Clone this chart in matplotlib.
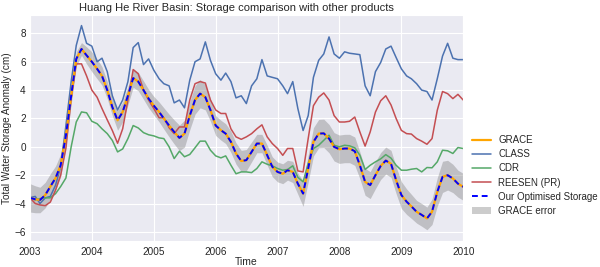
import matplotlib
matplotlib.use("Agg")
import matplotlib.pyplot as plt
import matplotlib.dates as mdates
import matplotlib.patches as mpatches
import matplotlib.lines as mlines
import pandas as pd
import seaborn as sns

dates = pd.date_range("2003-01-01", "2010-01-01", freq="MS")

grace = [-3.6, -3.7, -3.75, -3.4, -2.8, -2.2, -1.3, 0.8, 3.6, 6.2, 6.9, 6.45,
         6.0, 5.5, 5.0, 4.0, 2.8, 1.87, 2.46, 3.6, 4.85, 4.6, 4.0, 3.4,
         2.9, 2.46, 2.0, 1.5, 1.05, 0.63, 0.93, 2.2, 3.3, 3.75, 3.5, 2.6,
         1.5, 1.17, 0.93, 0.35, -0.47, -1.0, -0.94, -0.36, 0.23, 0.23, -0.59, -1.4,
         -1.77, -1.9, -1.65, -1.77, -2.6, -3.3, -1.53, 0.35, 0.93, 0.95, 0.58, 0.0,
         -0.17, -0.12, -0.12, -0.31, -1.3, -2.47, -2.7, -2.0, -1.35, -0.97, -1.2, -2.35,
         -3.4, -3.87, -4.2, -4.58, -4.8, -5.05, -4.58, -3.18, -2.12, -2.0, -2.23, -2.6,
         -2.82]
optimised = list(grace)
grace_err = [1.0, 0.95, 0.9, 0.9, 0.9, 0.85, 0.8, 0.7, 0.6, 0.5, 0.45, 0.6,
             0.7, 0.7, 0.65, 0.6, 0.6, 0.7, 0.7, 0.65, 0.65, 0.65, 0.65, 0.65,
             0.65, 0.7, 0.75, 0.8, 0.85, 0.9, 0.95, 1.0, 1.0, 1.0, 0.9, 0.8,
             0.7, 0.7, 0.7, 0.75, 0.75, 0.75, 0.75, 0.7, 0.65, 0.65, 0.7, 0.7,
             0.7, 0.7, 0.7, 0.75, 0.75, 0.9, 0.95, 1.0, 1.0, 1.0, 1.0, 1.0,
             1.0, 1.0, 1.0, 1.0, 0.95, 0.95, 0.95, 0.95, 0.95, 0.95, 0.95, 0.95,
             0.95, 0.9, 0.85, 0.8, 0.8, 0.8, 0.9, 1.0, 1.1, 1.05, 1.0, 0.95,
             0.95]
class_tws = [-3.58, -3.5, -4.0, -3.6, -3.5, -2.7, -1.4, 1.5, 4.6, 7.15, 8.55, 7.3,
             7.1, 6.0, 6.25, 5.3, 3.6, 2.6, 3.3, 4.6, 7.0, 7.35, 5.8, 6.2,
             5.4, 4.8, 4.45, 4.3, 3.1, 3.3, 2.75, 4.7, 6.0, 6.2, 7.4, 6.1,
             5.15, 4.7, 5.2, 4.6, 3.45, 3.6, 3.05, 4.3, 4.8, 6.15, 5.0, 4.9,
             4.8, 4.3, 3.75, 4.6, 2.7, 1.15, 2.2, 4.9, 6.1, 6.55, 7.75, 6.55,
             6.25, 6.7, 6.6, 6.55, 6.5, 4.3, 3.6, 5.3, 5.95, 6.9, 7.1, 6.3,
             5.5, 5.0, 4.8, 4.45, 4.0, 3.9, 3.3, 4.8, 6.4, 7.3, 6.25, 6.15,
             6.15]
cdr = [-3.58, -3.75, -3.65, -3.6, -3.6, -3.3, -2.8, -2.2, 0.0, 1.75, 2.46, 2.4,
       1.8, 1.63, 1.27, 0.93, 0.45, -0.36, -0.15, 0.58, 1.5, 1.33, 1.0, 0.85,
       0.77, 0.63, 0.58, 0.0, -0.83, -0.31, -0.7, -0.54, -0.07, 0.4, 0.4, -0.24,
       -0.64, -0.78, -0.64, -1.3, -1.9, -1.77, -1.77, -1.82, -1.53, -1.06, -1.23, -1.34,
       -1.53, -1.65, -1.6, -1.34, -2.15, -2.47, -1.18, -0.12, 0.11, 0.46, 0.82, 0.11,
       0.0, 0.11, 0.07, -0.07, -0.59, -1.6, -1.3, -1.06, -0.85, -0.55, -0.8, -1.3,
       -1.65, -1.65, -1.58, -1.53, -1.77, -1.46, -1.48, -1.06, -0.24, -0.28, -0.47, -0.05,
       -0.12]
reesen = [-3.6, -4.0, -4.1, -4.15, -3.9, -3.05, -2.0, -0.1, 3.4, 5.85, 5.85, 5.0,
          4.0, 3.5, 2.7, 1.9, 1.15, 0.25, 1.27, 3.3, 5.45, 5.15, 4.0, 3.3,
          2.7, 2.05, 2.05, 1.35, 0.93, 1.4, 1.4, 3.3, 4.45, 4.6, 4.5, 3.3,
          2.6, 2.35, 2.35, 1.27, 0.7, 0.53, 0.7, 0.93, 1.27, 1.55, 0.7, 0.23,
          -0.12, -0.6, -0.12, -0.12, -1.7, -1.77, 0.58, 2.9, 3.5, 3.8, 3.3, 2.2,
          1.75, 1.75, 1.8, 2.1, 1.05, 0.05, 1.05, 2.45, 3.25, 3.6, 2.95, 2.0,
          1.16, 0.93, 0.9, 0.58, 0.4, 0.18, 0.58, 2.58, 3.9, 3.75, 3.4, 3.7,
          3.3]

sns.set_style("darkgrid")
plt.rcParams["font.family"] = ["Liberation Sans", "DejaVu Sans"]

fig = plt.figure(figsize=(6, 2.67), dpi=100)
ax = fig.add_axes([0.05, 0.097, 0.722, 0.847])

lo = [g - e for g, e in zip(grace, grace_err)]
hi = [g + e for g, e in zip(grace, grace_err)]
ax.fill_between(dates, lo, hi, color="gray", alpha=0.4, linewidth=0)
ax.plot(dates, class_tws, color="#4C72B0", lw=1.1)
ax.plot(dates, cdr, color="#55A868", lw=1.1)
ax.plot(dates, reesen, color="#C44E52", lw=1.1)
ax.plot(dates, grace, color="orange", lw=1.6)
ax.plot(dates, optimised, color="blue", lw=1.4, ls="--", dashes=(3, 2))

ax.set_xlim(dates[0], dates[-1])
ax.set_ylim(-6.65, 9.3)
ax.xaxis.set_major_locator(mdates.YearLocator())
ax.xaxis.set_major_formatter(mdates.DateFormatter("%Y"))
ax.set_yticks([-6, -4, -2, 0, 2, 4, 6, 8])
ax.tick_params(labelsize=7.2, length=0)
ax.tick_params(axis="x", pad=4)
ax.tick_params(axis="y", pad=3)
ax.set_xlabel("Time", fontsize=7.5, labelpad=0)
ax.set_ylabel("Total Water Storage Anomaly (cm)", fontsize=7.2, labelpad=1.5)
ax.set_title("Huang He River Basin: Storage comparison with other products",
             fontsize=8.0, pad=3, x=0.476)

handles = [
    mlines.Line2D([], [], color="orange", lw=1.6),
    mlines.Line2D([], [], color="#4C72B0", lw=1.1),
    mlines.Line2D([], [], color="#55A868", lw=1.1),
    mlines.Line2D([], [], color="#C44E52", lw=1.1),
    mlines.Line2D([], [], color="blue", lw=1.4, ls="--", dashes=(3, 2)),
    mpatches.Patch(color="gray", alpha=0.4, linewidth=0),
]
labels = ["GRACE", "CLASS", "CDR", "REESEN (PR)", "Our Optimised Storage", "GRACE error"]
ax.legend(handles, labels, loc="center left", bbox_to_anchor=(1.0, 0.29),
          fontsize=7, frameon=False, handlelength=2.0, labelspacing=0.42,
          handletextpad=0.7)

fig.savefig("out.png", dpi=100, facecolor="white")
